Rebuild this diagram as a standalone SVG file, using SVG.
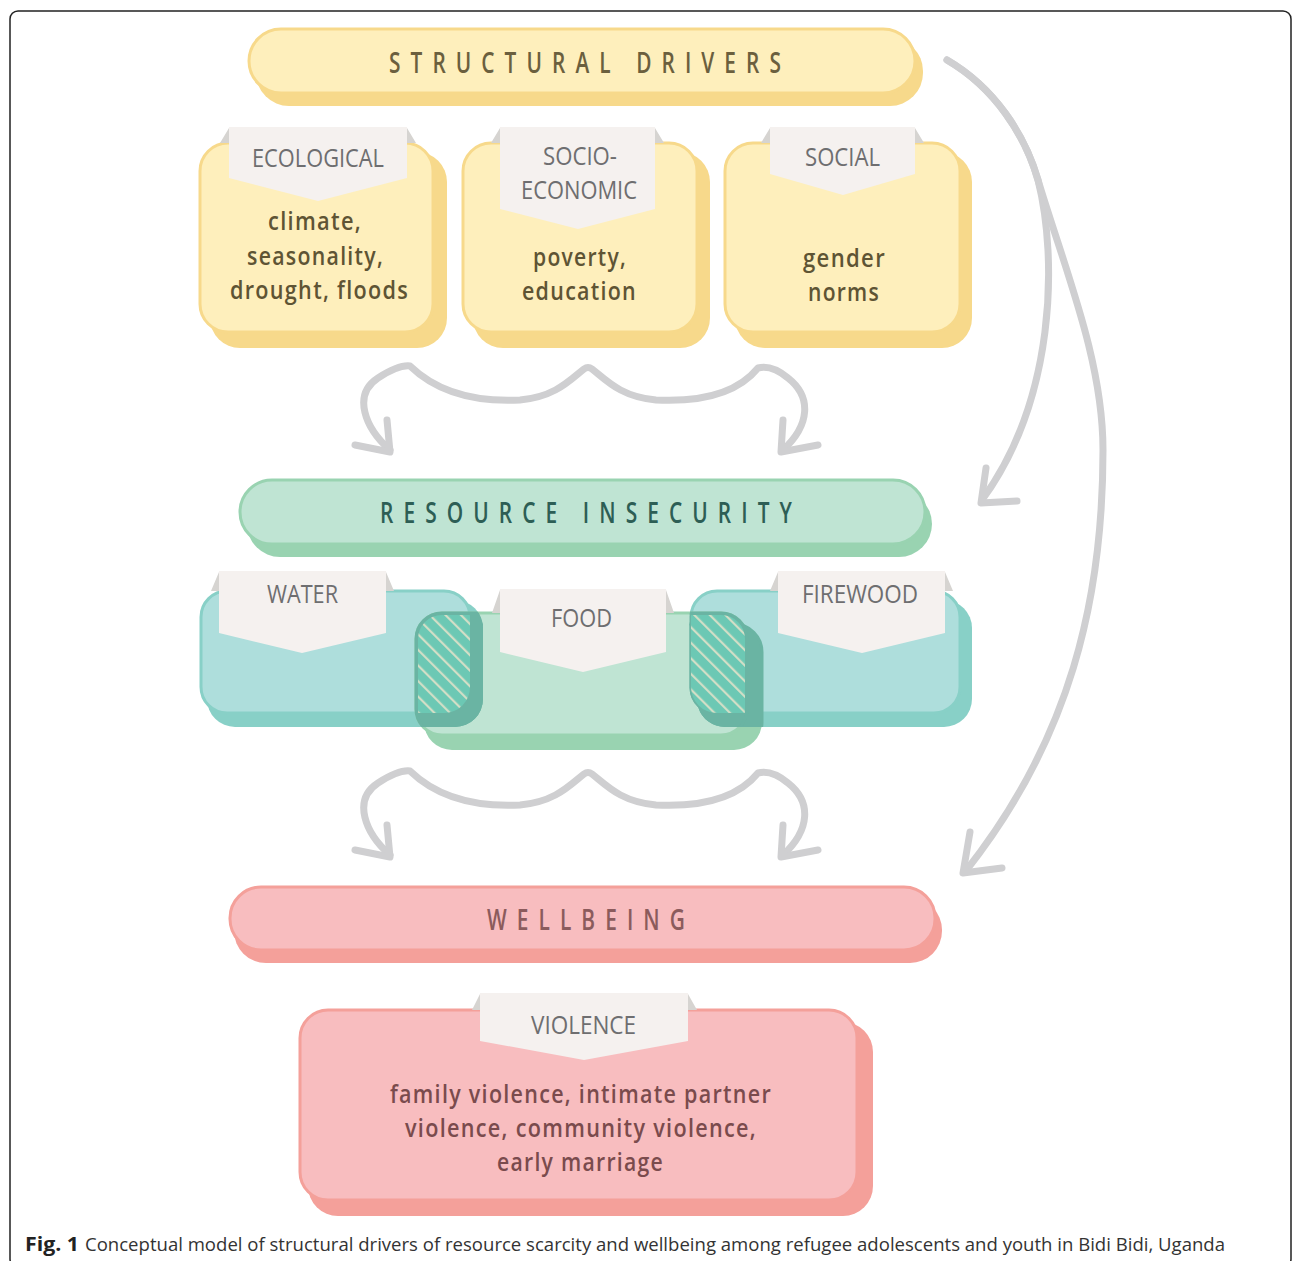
<svg xmlns="http://www.w3.org/2000/svg" width="1293" height="1261" viewBox="0 0 1293 1261">
<defs>
<style>
.title{font-family:"Open Sans","Liberation Sans",sans-serif;font-weight:600;font-size:29px;letter-spacing:14px}
.lab{font-family:"Open Sans","Liberation Sans",sans-serif;font-size:26px;fill:#6E6E70}
.body{font-family:"Open Sans","Liberation Sans",sans-serif;font-size:25px;font-weight:600;letter-spacing:1.5px}
.yb{fill:#5E5434}
.pb{fill:#7A4B4D}
.yF{fill:#FEEFBC;stroke:#F7D98B;stroke-width:3}
.yS{fill:#F7D98B}
.gF{fill:#BFE4D3;stroke:#99D3B1;stroke-width:3}
.gS{fill:#99D3B1}
.tF{fill:#AEDEDC;stroke:#88D0C7;stroke-width:3}
.tS{fill:#88D0C7}
.pF{fill:#F8BDBF;stroke:#F4A09A;stroke-width:3}
.pS{fill:#F4A09A}
.tab{fill:#F5F1EF}
.fold{fill:#D6D4D1}
.arr{fill:none;stroke:#CFCFD1;stroke-width:7;stroke-linecap:round;stroke-linejoin:round}
.dark{fill:#6AB4A3;stroke:#6AB4A3;stroke-width:3}
</style>
<pattern id="hatch" width="11" height="11" patternUnits="userSpaceOnUse" patternTransform="rotate(-45)">
<rect width="11" height="11" fill="#6CC8B4"/>
<rect width="2.2" height="11" fill="#D2DEC6"/>
</pattern>
<clipPath id="cWater"><rect x="207" y="600" width="276" height="127" rx="28"/><rect x="199.5" y="589.5" width="272" height="125" rx="27"/></clipPath>
<clipPath id="cWaterF"><rect x="201" y="591" width="269" height="122" rx="26"/></clipPath>
<clipPath id="cFire"><rect x="697" y="600" width="275" height="127" rx="28"/><rect x="689.5" y="589.5" width="272" height="125" rx="27"/></clipPath>
<clipPath id="cFireF"><rect x="691" y="591" width="269" height="122" rx="26"/></clipPath>
</defs>
<rect width="1293" height="1261" fill="#FFFFFF"/>
<rect x="10" y="11" width="1281" height="1256" rx="8" fill="none" stroke="#222" stroke-width="1.5"/>

<g id="connectors">
<path class="arr" d="M390,450 C365,428 352,395 378,378 C392,369 402,365 410,366 C440,395 480,402 520,400 C555,397 570,380 584,369 Q588,366 592,369 C606,380 621,397 656,400 C696,402 736,395 758,368 C766,366 776,368 788,378 C812,397 810,425 783,450"/>
<path class="arr" d="M355,445 L390,452 L387,420"/>
<path class="arr" d="M783,420 L781,452 L818,445"/>
<g transform="translate(0,405)">
<path class="arr" d="M390,450 C365,428 352,395 378,378 C392,369 402,365 410,366 C440,395 480,402 520,400 C555,397 570,380 584,369 Q588,366 592,369 C606,380 621,397 656,400 C696,402 736,395 758,368 C766,366 776,368 788,378 C812,397 810,425 783,450"/>
<path class="arr" d="M355,445 L390,452 L387,420"/>
<path class="arr" d="M783,420 L781,452 L818,445"/>
</g>
<path class="arr" d="M947,60 C995,88 1025,135 1038,180 C1058,260 1055,400 982,500"/>
<path class="arr" d="M986,468 L981,503 L1017,501"/>
<path class="arr" d="M947,60 C995,88 1025,135 1038,180 C1065,270 1103,360 1103,450 C1103,600 1070,740 965,872"/>
<path class="arr" d="M970,832 L963,873 L1002,868"/>
</g>

<g id="structural-drivers">
<rect class="yS" x="256" y="38" width="667" height="68" rx="33"/>
<rect class="yF" x="249" y="29" width="666" height="64" rx="32"/>
<text class="title" x="389" y="73" fill="#6B5F3E" textLength="402" lengthAdjust="spacingAndGlyphs">STRUCTURAL DRIVERS</text>
</g>

<g id="ecological">
<rect class="yS" x="210" y="152" width="237" height="196" rx="30"/>
<rect class="yF" x="200" y="143" width="233" height="189" rx="28"/>
<path class="fold" d="M229,128 L220,143 L229,143 Z M407,128 L416,143 L407,143 Z"/>
<path class="tab" d="M229,127 H407 V178 L318,201 L229,178 Z"/>
<text class="lab" x="252" y="167" textLength="132" lengthAdjust="spacingAndGlyphs">ECOLOGICAL</text>
<text class="body yb" x="268" y="230" textLength="94" lengthAdjust="spacingAndGlyphs">climate,</text>
<text class="body yb" x="247" y="265" textLength="137" lengthAdjust="spacingAndGlyphs">seasonality,</text>
<text class="body yb" x="230" y="299" textLength="179" lengthAdjust="spacingAndGlyphs">drought, floods</text>
</g>

<g id="socio-economic">
<rect class="yS" x="473" y="152" width="237" height="196" rx="30"/>
<rect class="yF" x="463" y="143" width="234" height="189" rx="28"/>
<path class="fold" d="M500,128 L491,143 L500,143 Z M655,128 L664,143 L655,143 Z"/>
<path class="tab" d="M500,127 H655 V209 L578,229 L500,209 Z"/>
<text class="lab" x="543" y="165" textLength="74" lengthAdjust="spacingAndGlyphs">SOCIO-</text>
<text class="lab" x="521" y="199" textLength="116" lengthAdjust="spacingAndGlyphs">ECONOMIC</text>
<text class="body yb" x="533" y="266" textLength="94" lengthAdjust="spacingAndGlyphs">poverty,</text>
<text class="body yb" x="522" y="300" textLength="115" lengthAdjust="spacingAndGlyphs">education</text>
</g>

<g id="social">
<rect class="yS" x="735" y="152" width="237" height="196" rx="30"/>
<rect class="yF" x="725" y="143" width="235" height="189" rx="28"/>
<path class="fold" d="M770,128 L761,143 L770,143 Z M915,128 L924,143 L915,143 Z"/>
<path class="tab" d="M770,127 H915 V174 L843,195 L770,174 Z"/>
<text class="lab" x="805" y="166" textLength="75" lengthAdjust="spacingAndGlyphs">SOCIAL</text>
<text class="body yb" x="803" y="267" textLength="83" lengthAdjust="spacingAndGlyphs">gender</text>
<text class="body yb" x="808" y="301" textLength="72" lengthAdjust="spacingAndGlyphs">norms</text>
</g>

<g id="resource-insecurity">
<rect class="gS" x="247" y="491" width="685" height="66" rx="33"/>
<rect class="gF" x="240" y="480" width="685" height="64" rx="32"/>
<text class="title" x="380" y="523" fill="#2D5E55" textLength="422" lengthAdjust="spacingAndGlyphs">RESOURCE INSECURITY</text>
</g>

<g id="water">
<rect class="tS" x="207" y="600" width="276" height="127" rx="28"/>
<rect class="tF" x="201" y="591" width="269" height="122" rx="26"/>
</g>
<g id="firewood">
<rect class="tS" x="697" y="600" width="275" height="127" rx="28"/>
<rect class="tF" x="691" y="591" width="269" height="122" rx="26"/>
</g>
<g id="food">
<rect class="gS" x="424" y="624" width="338" height="126" rx="28"/>
<rect class="gF" x="416" y="613" width="331" height="122" rx="26"/>
</g>

<g id="overlaps">
<g clip-path="url(#cWater)">
<rect class="dark" x="424" y="624" width="338" height="126" rx="28"/>
<rect class="dark" x="416" y="613" width="331" height="122" rx="26"/>
</g>
<rect x="418" y="615" width="327" height="118" rx="24" fill="url(#hatch)" clip-path="url(#cWaterF)"/>
<g clip-path="url(#cFire)">
<rect class="dark" x="424" y="624" width="338" height="126" rx="28"/>
<rect class="dark" x="416" y="613" width="331" height="122" rx="26"/>
</g>
<rect x="418" y="615" width="327" height="118" rx="24" fill="url(#hatch)" clip-path="url(#cFireF)"/>
</g>

<g id="water-label">
<path class="fold" d="M219,572 L211,591 L219,591 Z M386,572 L394,591 L386,591 Z"/>
<path class="tab" d="M219,571 H386 V633 L302,653 L219,633 Z"/>
<text class="lab" x="267" y="603" textLength="71" lengthAdjust="spacingAndGlyphs">WATER</text>
</g>
<g id="food-label">
<path class="fold" d="M500,590 L492,613 L500,613 Z M666,590 L674,613 L666,613 Z"/>
<path class="tab" d="M500,589 H666 V652 L583,672 L500,652 Z"/>
<text class="lab" x="551" y="627" textLength="61" lengthAdjust="spacingAndGlyphs">FOOD</text>
</g>
<g id="firewood-label">
<path class="fold" d="M778,572 L770,591 L778,591 Z M945,572 L953,591 L945,591 Z"/>
<path class="tab" d="M778,571 H945 V633 L862,653 L778,633 Z"/>
<text class="lab" x="802" y="603" textLength="116" lengthAdjust="spacingAndGlyphs">FIREWOOD</text>
</g>

<g id="wellbeing">
<rect class="pS" x="234" y="898" width="708" height="65" rx="32"/>
<rect class="pF" x="230" y="887" width="705" height="63" rx="31"/>
<text class="title" x="487" y="930" fill="#8B5B5C" textLength="208" lengthAdjust="spacingAndGlyphs">WELLBEING</text>
</g>

<g id="violence">
<rect class="pS" x="308" y="1022" width="565" height="194" rx="30"/>
<rect class="pF" x="300" y="1010" width="557" height="190" rx="28"/>
<path class="fold" d="M480,994 L472,1010 L480,1010 Z M688,994 L697,1010 L688,1010 Z"/>
<path class="tab" d="M480,993 H688 V1041 L584,1060 L480,1041 Z"/>
<text class="lab" x="531" y="1034" textLength="105" lengthAdjust="spacingAndGlyphs">VIOLENCE</text>
<text class="body pb" x="390" y="1103" textLength="382" lengthAdjust="spacingAndGlyphs">family violence, intimate partner</text>
<text class="body pb" x="405" y="1137" textLength="352" lengthAdjust="spacingAndGlyphs">violence, community violence,</text>
<text class="body pb" x="497" y="1171" textLength="167" lengthAdjust="spacingAndGlyphs">early marriage</text>
</g>

<g id="caption">
<text x="25" y="1251" font-family="'Open Sans','Liberation Sans',sans-serif" font-size="19" font-weight="700" fill="#222" textLength="54" lengthAdjust="spacingAndGlyphs">Fig. 1</text>
<text x="85" y="1251" font-family="'Open Sans','Liberation Sans',sans-serif" font-size="19" fill="#333" textLength="1140" lengthAdjust="spacingAndGlyphs">Conceptual model of structural drivers of resource scarcity and wellbeing among refugee adolescents and youth in Bidi Bidi, Uganda</text>
</g>
</svg>
